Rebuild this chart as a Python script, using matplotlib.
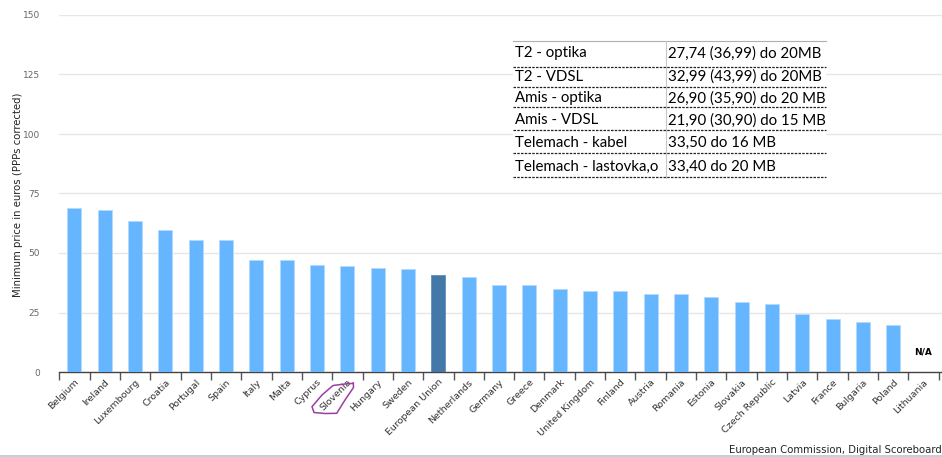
import matplotlib
matplotlib.use("Agg")
import matplotlib.pyplot as plt
import numpy as np
from matplotlib.lines import Line2D
from matplotlib.patches import Rectangle

countries = ["Belgium", "Ireland", "Luxembourg", "Croatia", "Portugal", "Spain", "Italy",
             "Malta", "Cyprus", "Slovenia", "Hungary", "Sweden", "European Union",
             "Netherlands", "Germany", "Greece", "Denmark", "United Kingdom", "Finland",
             "Austria", "Romania", "Estonia", "Slovakia", "Czech Republic", "Latvia",
             "France", "Bulgaria", "Poland", "Lithuania"]
prices = [68.8, 68.1, 63.4, 59.7, 55.5, 55.5, 46.9, 46.9, 44.8, 44.4, 43.8, 43.1, 40.6,
          39.9, 36.5, 36.5, 35.0, 34.0, 34.0, 32.9, 32.6, 31.5, 29.4, 28.7, 24.5, 22.4,
          21.0, 19.7, np.nan]
highlight = "European Union"
yticks = [0, 25, 50, 75, 100, 125, 150]

table_left = ["T2 - optika", "T2 - VDSL", "Amis - optika", "Amis - VDSL",
              "Telemach - kabel", "Telemach - lastovka,o"]
table_right = ["27,74 (36,99) do 20MB", "32,99 (43,99) do 20MB", "26,90 (35,90) do 20 MB",
               "21,90 (30,90) do 15 MB", "33,50 do 16 MB", "33,40 do 20 MB"]

W, H = 942, 457
fig = plt.figure(figsize=(W / 100, H / 100), dpi=100)

def fx(px):
    return px / W

def fy(py):
    return 1 - py / H

ax_left, ax_right, ax_top, ax_bot = 59.3, 942, 15, 372
ax = fig.add_axes([fx(ax_left), fy(ax_bot), fx(ax_right - ax_left), fy(ax_top) - fy(ax_bot)])

n = len(countries)
x = np.arange(n)
light = "#66b6ff"
dark = "#4478a8"
vals = [0 if np.isnan(v) else v for v in prices]
is_hl = np.array([c == highlight for c in countries])
ax.bar(x[~is_hl], np.array(vals)[~is_hl], width=0.46, color=light,
       edgecolor="#b3dbff", linewidth=0.6, zorder=3)
ax.bar(x[is_hl], np.array(vals)[is_hl], width=0.46, color=dark,
       edgecolor="#5f8fbf", linewidth=0.6, zorder=3)

for i, v in enumerate(prices):
    if np.isnan(v):
        ax.text(i, 8.4, "N/A", ha="center", va="center", fontsize=6.5,
                fontweight="bold", color="#000000", zorder=4)

ax.set_xlim(-0.5, n - 0.5 + (ax_right - 938.7) / 30.32)
ax.set_ylim(0, 150)
ax.set_yticks(yticks)
ax.set_yticklabels([str(t) for t in yticks])
ax.tick_params(axis="y", length=0, labelsize=6.5, labelcolor="#666666", pad=14)
ax.yaxis.grid(True, color="#e6e6e6", linewidth=1.0, zorder=0)
ax.set_axisbelow(True)

bounds = np.arange(n + 1) - 0.5
ax.set_xticks(bounds)
ax.set_xticklabels([""] * len(bounds))
ax.tick_params(axis="x", which="major", length=6, width=1, color="#555555", direction="out")
ax.set_xticks(x, minor=True)
ax.set_xticklabels(countries, minor=True, rotation=45, ha="right", va="top",
                   rotation_mode="anchor", fontsize=6.8, color="#333333")
ax.tick_params(axis="x", which="minor", length=0, pad=4)

for s in ["top", "right", "left"]:
    ax.spines[s].set_visible(False)
ax.spines["bottom"].set_color("#444444")
ax.spines["bottom"].set_linewidth(1.0)

fig.text(fx(18), fy(195), "Minimum price in euros (PPPs corrected)", rotation=90,
         ha="center", va="center", fontsize=7.3, color="#222222")

fig.text(fx(942), fy(450), "European Commission, Digital Scoreboard", ha="right",
         va="center", fontsize=7.3, color="#222222")
fig.add_artist(Line2D([0, 1], [fy(455.5), fy(455.5)], color="#b8c8d8", linewidth=1.2))

# pasted table overlay
tl, tr, tt, tb = 513, 826, 41, 180
fig.add_artist(Rectangle((fx(tl), fy(tb)), fx(tr - tl), fy(tt) - fy(tb),
                         facecolor="white", edgecolor="none", zorder=5))
fig.add_artist(Line2D([fx(tl), fx(tr)], [fy(tt), fy(tt)], color="#b0b0b0",
                      linewidth=0.8, zorder=6))
fig.add_artist(Line2D([fx(665.7), fx(665.7)], [fy(tt), fy(178)], color="#c8c8c8",
                      linewidth=0.8, zorder=6))
row_lines = [66.7, 86.5, 107, 130, 153.3, 177]
for yl in row_lines:
    fig.add_artist(Line2D([fx(tl), fx(tr)], [fy(yl), fy(yl)], color="#222222",
                          linewidth=0.9, linestyle=(0, (2, 1)), zorder=6))
row_centers = [53.3, 76.7, 98.3, 120.3, 143.3, 166.7]
for yc, a, b in zip(row_centers, table_left, table_right):
    fig.text(fx(515), fy(yc), a, ha="left", va="center", fontsize=10.8,
             family="Lato", color="#000000", zorder=7)
    fig.text(fx(668), fy(yc), b, ha="left", va="center", fontsize=10.8,
             family="Lato", color="#000000", zorder=7)

# hand-drawn circle around Slovenia
pts = [(353.3, 383.3), (345, 384), (333, 385.5), (322, 395), (312, 406.7), (314, 412.5),
       (325, 413.5), (336.7, 413.3), (345, 400), (353.5, 387.5), (353.3, 383.3)]
fig.add_artist(Line2D([fx(p[0]) for p in pts], [fy(p[1]) for p in pts],
                      color="#9a3fa0", linewidth=1.1, zorder=8))

fig.savefig("out.png", dpi=100)
